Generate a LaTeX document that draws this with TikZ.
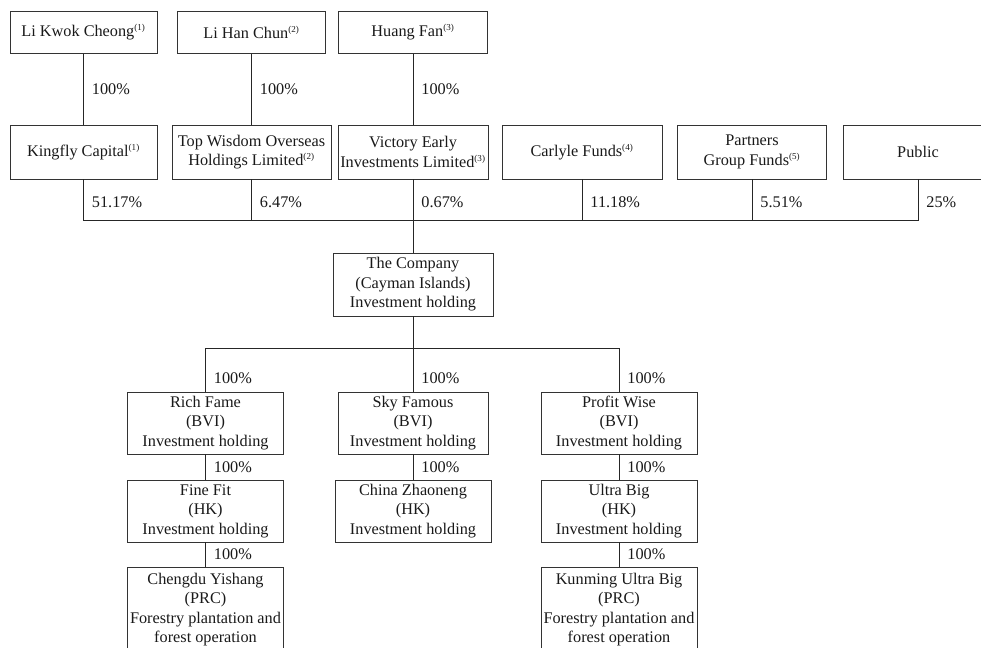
\documentclass[tikz,border=0pt]{standalone}
\usepackage{fontspec}
\setmainfont{Liberation Serif}
\newcommand{\fnmark}[1]{\textsuperscript{\fontsize{6.8}{7}\selectfont(#1)}}
\tikzset{entity/.style={draw=black!80, line width=0.7pt, align=center, inner sep=1pt,
        text=black!90, font=\fontsize{12.2}{14.6}\selectfont},
    owner/.style={entity, minimum height=31.2pt},
    holder/.style={entity, minimum height=40.5pt},
    subco/.style={entity, minimum width=117pt, minimum height=46.5pt},
    share/.style={anchor=west, inner sep=0pt, xshift=6pt, text=black!90,
        font=\fontsize{12.2}{14.6}\selectfont},
    link/.style={draw=black!85, line width=0.7pt},
    }

\begin{document}
\begin{tikzpicture}[x=0.75pt,y=-0.75pt]
\useasboundingbox (0,0) rectangle (981,647);
\clip (0,0) rectangle (981,647);
% individuals
\node[owner, minimum width=110.25pt] (lkc) at (83.5,32.5) {Li Kwok Cheong\fnmark{1}};
\node[owner, minimum width=111pt] (lhc) at (251.5,32.5) {Li Han Chun\fnmark{2}};
\node[owner, minimum width=111.75pt] (hf) at (413,32.5) {Huang Fan\fnmark{3}};
% shareholders
\node[holder, minimum width=110.25pt] (kingfly) at (83.5,152) {Kingfly Capital\fnmark{1}};
\node[holder, minimum width=119.25pt] (topwisdom) at (251.5,152) {Top Wisdom Overseas\\Holdings Limited\fnmark{2}};
\node[holder, minimum width=112.5pt] (victory) at (413,152) {Victory Early\\Investments Limited\fnmark{3}};
\node[holder, minimum width=120pt] (carlyle) at (582,152) {Carlyle Funds\fnmark{4}};
\node[holder, minimum width=111.75pt] (partners) at (752,152) {Partners\\Group Funds\fnmark{5}};
\node[holder, minimum width=112.5pt] (public) at (918,152) {Public};
\coordinate (hub) at (413,220);
% the company
\node[entity, minimum width=120pt, minimum height=47.25pt] (company) at (413,284.5) {The Company\\(Cayman Islands)\\Investment holding};
\coordinate (split) at (413,348);
% subsidiaries
\node[subco] (rich) at (205.5,423) {Rich Fame\\(BVI)\\Investment holding};
\node[subco, minimum width=112.5pt] (sky) at (413,423) {Sky Famous\\(BVI)\\Investment holding};
\node[subco] (profit) at (619,423) {Profit Wise\\(BVI)\\Investment holding};
\node[subco] (finefit) at (205.5,511) {Fine Fit\\(HK)\\Investment holding};
\node[subco] (zhaoneng) at (413,511) {China Zhaoneng\\(HK)\\Investment holding};
\node[subco] (ultrabig) at (619,511) {Ultra Big\\(HK)\\Investment holding};
\node[subco, minimum height=63.75pt] (chengdu) at (205.5,609.5) {Chengdu Yishang\\(PRC)\\Forestry plantation and\\forest operation};
\node[subco, minimum height=63.75pt] (kunming) at (619,609.5) {Kunming Ultra Big\\(PRC)\\Forestry plantation and\\forest operation};

\draw[link] (lkc) -- node[share]{100\%} (kingfly);
\draw[link] (lhc) -- node[share]{100\%} (topwisdom);
\draw[link] (hf) -- node[share]{100\%} (victory);

\draw[link] (kingfly) |- node[share, pos=0.28]{51.17\%} (hub);
\draw[link] (topwisdom) |- node[share, pos=0.28]{6.47\%} (hub);
\draw[link] (victory) |- node[share, pos=0.28]{0.67\%} (hub);
\draw[link] (carlyle) |- node[share, pos=0.28]{11.18\%} (hub);
\draw[link] (partners) |- node[share, pos=0.28]{5.51\%} (hub);
\draw[link] (public) |- node[share, pos=0.28]{25\%} (hub);
\draw[link] (hub) -- (company);

\draw[link] (company) -- (split);
\draw[link] (split) -| node[share, pos=0.85]{100\%} (rich);
\draw[link] (split) -- node[share, pos=0.7]{100\%} (sky);
\draw[link] (split) -| node[share, pos=0.85]{100\%} (profit);

\draw[link] (rich) -- node[share]{100\%} (finefit);
\draw[link] (sky) -- node[share]{100\%} (zhaoneng);
\draw[link] (profit) -- node[share]{100\%} (ultrabig);
\draw[link] (finefit) -- node[share]{100\%} (chengdu);
\draw[link] (ultrabig) -- node[share]{100\%} (kunming);
\end{tikzpicture}
\end{document}
